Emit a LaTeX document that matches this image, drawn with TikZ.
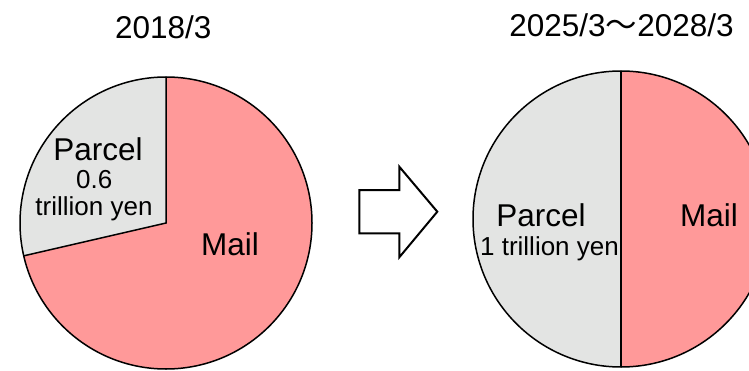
\documentclass[tikz,border=0pt]{standalone}
\usepackage{fontspec}
\usetikzlibrary{calc}
\setmainfont{Liberation Sans}
\newfontfamily\cjkfont{Noto Sans CJK JP}
\definecolor{mailpink}{RGB}{255,153,153}
\definecolor{parcelgray}{RGB}{227,228,227}
\begin{document}
\begin{tikzpicture}[x=1pt,y=1pt,
  bigtxt/.style={font=\fontsize{31.5}{36}\selectfont, inner sep=0pt, anchor=base},
  smalltxt/.style={font=\fontsize{26}{30}\selectfont, inner sep=0pt, anchor=base},
  pieline/.style={draw=black, line width=1.5pt},
  blockarrow/.style={draw=black, line width=2pt, fill=white, line join=miter}]
\useasboundingbox (0,0) rectangle (749,370);
% left pie
\coordinate (lc) at (166,147);
\fill[mailpink] (lc) circle[radius=146];
\fill[parcelgray] (lc) -- ++(90:146) arc[start angle=90, end angle=193, radius=146] -- cycle;
\draw[pieline] (lc) circle[radius=146];
\draw[pieline] ($(lc)+(90:146)$) -- (lc) -- ($(lc)+(193:146)$);
% right pie
\coordinate (rc) at (621,151);
\fill[mailpink] (rc) circle[radius=148];
\fill[parcelgray] (rc) -- ++(90:148) arc[start angle=90, end angle=270, radius=148] -- cycle;
\draw[pieline] (rc) circle[radius=148];
\draw[pieline] ($(rc)+(90:148)$) -- ($(rc)+(270:148)$);
% arrow
\draw[blockarrow] (359.3,180) -- (399.3,180) -- (399.3,203.3) -- (437.3,158.3)
  -- (399.3,112.7) -- (399.3,136.7) -- (359.3,136.7) -- cycle;
% texts
\node[bigtxt] (t1) at (163.3,331.7) {2018/3};
\node[bigtxt] (t2) at (621.5,333) {2025/3{\cjkfont 〜}2028/3};
\node[bigtxt] (lp) at (98,210) {Parcel};
\node[smalltxt] (lv1) at (94.3,181.7) {0.6};
\node[smalltxt] (lv2) at (94,155) {trillion yen};
\node[bigtxt] (lm) at (230,115) {Mail};
\node[bigtxt] (rp) at (541,143.3) {Parcel};
\node[smalltxt] (rv) at (549.5,115) {1 trillion yen};
\node[bigtxt] (rm) at (709,143.3) {Mail};
\end{tikzpicture}
\end{document}
